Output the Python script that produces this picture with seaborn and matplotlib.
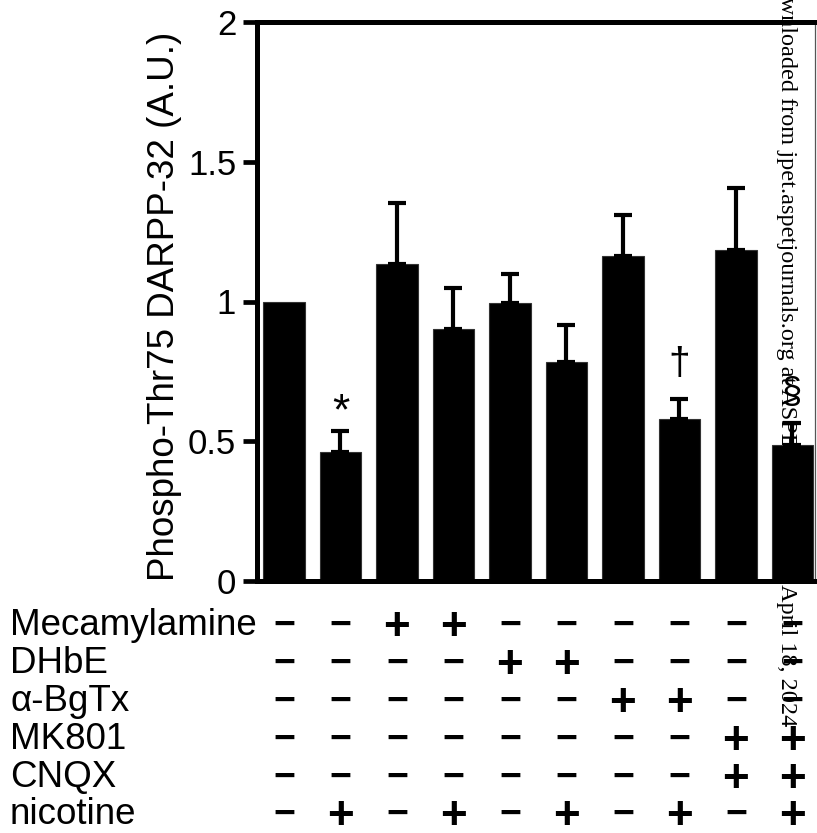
import matplotlib
matplotlib.use("Agg")
from matplotlib import pyplot as plt
from matplotlib import transforms
import numpy as np
import pandas as pd
import seaborn as sns

# data
groups = ["c1", "c2", "c3", "c4", "c5", "c6", "c7", "c8", "c9", "c10"]
means = [1.0, 0.46, 1.135, 0.903, 0.993, 0.782, 1.162, 0.58, 1.184, 0.487]
sem = [0.0, 0.076, 0.216, 0.144, 0.104, 0.133, 0.146, 0.072, 0.223, 0.08]
marks = ["*", "\u2020", "\u00a7"]
mark_x = [1, 7, 9]
mark_y = [0.60, 0.775, 0.672]
mark_size = [32, 28, 26]

row_names = ["Mecamylamine", "DHbE", "\u03b1-BgTx", "MK801", "CNQX", "nicotine"]
mecamylamine = [0, 0, 1, 1, 0, 0, 0, 0, 0, 0]
dhbe = [0, 0, 0, 0, 1, 1, 0, 0, 0, 0]
bgtx = [0, 0, 0, 0, 0, 0, 1, 1, 0, 0]
mk801 = [0, 0, 0, 0, 0, 0, 0, 0, 1, 1]
cnqx = [0, 0, 0, 0, 0, 0, 0, 0, 1, 1]
nicotine = [0, 1, 0, 1, 0, 1, 0, 1, 0, 1]
table = [mecamylamine, dhbe, bgtx, mk801, cnqx, nicotine]

sns.set_style("ticks")
plt.rcParams['font.family'] = ['Liberation Sans', 'DejaVu Sans']
plt.rcParams['text.color'] = 'black'
plt.rcParams['ytick.color'] = 'black'
plt.rcParams['ytick.labelcolor'] = 'black'

W, H = 817, 833
fig = plt.figure(figsize=(W / 100, H / 100), dpi=100)
ax = fig.add_axes([257 / W, 1 - 581 / H, (815 - 257) / W, (581 - 22) / H])
ax.set_zorder(1)
ax.patch.set_visible(False)

df = pd.DataFrame({"group": groups, "value": means})
sns.barplot(data=df, x="group", y="value", color="black", width=0.74,
            edgecolor="#333333", linewidth=0.8, saturation=1, ax=ax)
x = np.arange(len(groups))
err = np.array(sem)
ax.errorbar(x[1:], means[1:], yerr=[np.zeros(len(x) - 1), err[1:]], fmt="none",
            ecolor="black", elinewidth=3.0, capsize=6.2, capthick=3.0, zorder=1)

for s, mx, my, ms in zip(marks, mark_x, mark_y, mark_size):
    ax.text(mx, my, s, ha="center", va="center", fontsize=ms, color="black")

ax.set_xlim(-0.478, 9.40)
ax.set_ylim(0, 2)
ax.set_yticks([0, 0.5, 1, 1.5, 2])
ax.set_yticklabels(["0", "0.5", "1", "1.5", "2"])
ax.set_xticks([])
ax.set_xlabel("")
ax.set_ylabel("")
ax.tick_params(axis="y", direction="out", length=10, width=3.4, pad=5, labelsize=25)
for side in ["left", "top", "bottom"]:
    ax.spines[side].set_linewidth(3.6)
    ax.spines[side].set_color("black")
ax.spines["right"].set_linewidth(0.9)
ax.spines["right"].set_color("#555555")

fig.text(165 / W, 1 - 306 / H, "Phospho-Thr75 DARPP-32 (A.U.)", rotation=90,
         ha="center", va="center", fontsize=26.5)

# treatment table under the bars
trans = transforms.blended_transform_factory(ax.transData, fig.transFigure)
row_base = [635, 673, 711, 749, 787, 824]
for name, vals, rb in zip(row_names, table, row_base):
    fig.text(10 / W, 1 - rb / H, name, ha="left", va="baseline", fontsize=26.5)
    for i, v in enumerate(vals):
        if v:
            ax.text(i, 1 - (rb + 5) / H, "+", transform=trans, ha="center",
                    va="baseline", fontsize=33, fontweight="bold", clip_on=False)
        else:
            ax.text(i, 1 - (rb + 1) / H, "\u2212", transform=trans, ha="center",
                    va="baseline", fontsize=27, fontweight="bold", clip_on=False)

# page watermark
fig.text(787 / W, 1 + 33 / H,
         "Downloaded from jpet.aspetjournals.org at ASPET Journals on April 18, 2024",
         rotation=-90, rotation_mode="anchor", ha="left", va="center",
         fontsize=17.5, family="Liberation Serif", zorder=0)

fig.savefig("out.png", dpi=100)
